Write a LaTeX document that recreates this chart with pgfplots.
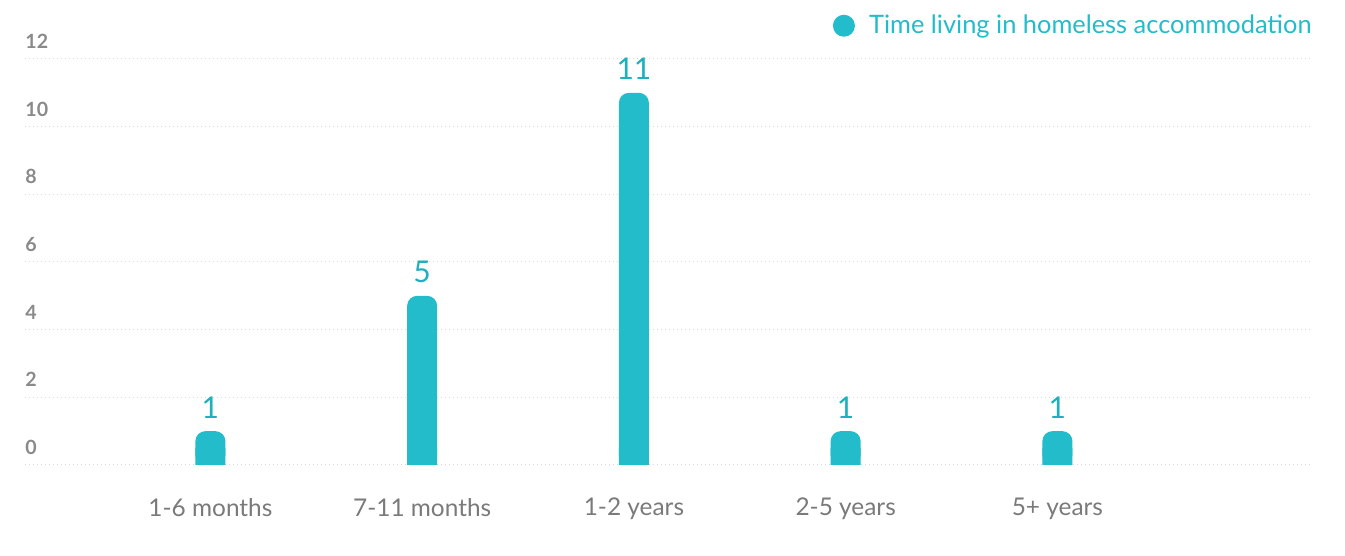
\documentclass[border=0pt]{standalone}
\usepackage{pgfplots}
\pgfplotsset{compat=1.18}
\usepackage{pgfplotstable}
\usepackage{fontspec}
\setmainfont{Lato}
\definecolor{barcol}{HTML}{23BCCA}
\definecolor{valcol}{HTML}{1FB0BE}
\definecolor{ticky}{HTML}{8A8A8A}
\definecolor{tickx}{HTML}{7A7A7A}
\definecolor{gridc}{HTML}{DADADA}
\pgfplotstableread{
x v
0 1
1 5
2 11
3 1
4 1
}\datatable
\begin{document}
\begin{tikzpicture}
\useasboundingbox (-12.5pt,-45.5pt) rectangle (660pt,232.5pt);
\begin{axis}[
  scale only axis,
  width=642.5pt, height=203pt,
  xmin=-0.8756, xmax=5.193,
  ymin=0, ymax=12,
  ytick={0,2,...,12},
  xtick={0,1,2,3,4},
  xticklabels={1-6 months,7-11 months,1-2 years,2-5 years,5+ years},
  axis line style={draw=none},
  major tick length=0pt,
  ymajorgrids,
  grid style={gridc, line width=0.5pt, dash pattern=on 0.6pt off 1.4pt},
  /pgf/number format/assume math mode=true,
  yticklabel style={anchor=south west, inner sep=0pt, yshift=5pt, xshift=0pt, font=\fontsize{9.8}{10}\selectfont\bfseries, text=ticky},
  xticklabel style={font=\fontsize{12.2}{13}\selectfont, text=tickx, yshift=-13pt},
  clip=false,
  legend style={draw=none, fill=none, at={(1,1)}, anchor=south east, yshift=9pt, xshift=3pt,
    font=\fontsize{12.7}{14}\selectfont, text=barcol, inner sep=0pt},
  legend cell align=left,
]
\addplot[ybar, bar width=15pt, bar shift=0pt, fill=barcol, draw=none, rounded corners=5pt,
  nodes near coords, every node near coord/.append style={font=\fontsize{15}{16}\selectfont, text=valcol, yshift=3pt},
  legend image code/.code={\fill[barcol] (0pt,0pt) circle (5.5pt); \path (10.5pt,0pt) -- (10.6pt,0pt);}
] table[x=x, y=v] {\datatable};
\addlegendentry{Time living in homeless accommodation}
\addplot[ybar, bar width=15pt, bar shift=0pt, fill=barcol, draw=none, forget plot]
  table[x=x, y expr={min(\thisrow{v},0.5)}] {\datatable};
\end{axis}
\end{tikzpicture}
\end{document}
